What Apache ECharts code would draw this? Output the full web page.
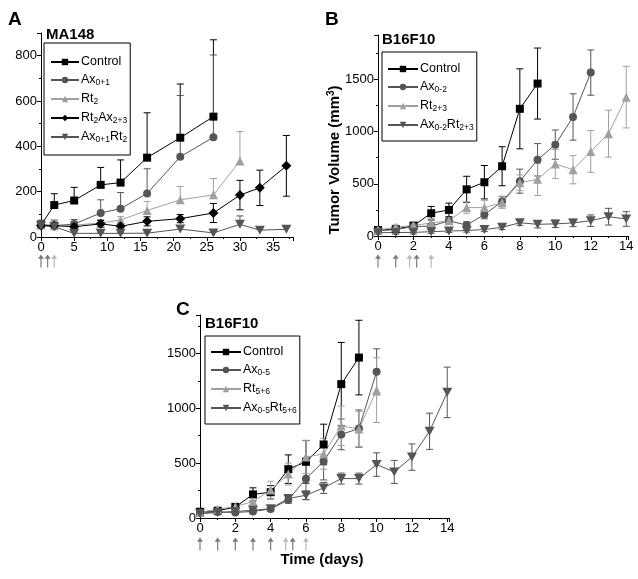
<!DOCTYPE html>
<html><head><meta charset="utf-8">
<script src="https://cdn.jsdelivr.net/npm/echarts@6/dist/echarts.min.js"></script>
<style>html,body{margin:0;padding:0;background:#fff}#c{width:638px;height:579px}</style>
</head><body><div id="c"></div>
<script>
// ---------- Panel A (MA148) ----------
const A_days_control = [0,2,5,9,12,16,21,26];
const A_control      = [52,141,161,230,240,350,438,531];
const A_control_err  = [22,50,58,77,100,198,237,339];
const A_days_ax      = [0,2,5,9,12,16,21,26];
const A_ax           = [55,50,57,106,125,192,354,440];
const A_ax_err       = [15,25,20,58,71,109,270,363];
const A_days_rt      = [0,2,5,9,12,16,21,26,30];
const A_rt           = [55,50,52,62,75,117,164,186,335];
const A_rt_err       = [15,20,15,15,15,40,59,72,130];
const A_days_rtax    = [0,2,5,9,12,16,21,26,30,33,37];
const A_rtax         = [51,50,45,58,47,69,81,106,185,217,314];
const A_rtax_err     = [12,15,15,15,15,20,18,42,65,78,134];
const A_days_axrt    = [0,2,5,9,12,16,21,26,30,33,37];
const A_axrt         = [50,45,16,16,16,17,35,18,56,30,34];
const A_axrt_err     = [10,10,5,5,5,5,10,5,37,5,16];
const A_arrow_days   = [0,1,2];
const A_arrow_kind   = ['Ax','Ax','Rt'];

// ---------- Panel B (B16F10) ----------
const B_days_control = [0,1,2,3,4,5,6,7,8,9];
const B_control      = [57,65,100,218,250,447,515,668,1218,1460];
const B_control_err  = [20,20,20,65,65,125,160,187,383,340];
const B_days_ax      = [0,1,2,3,4,5,6,7,8,9,10,11,12];
const B_ax           = [50,62,90,95,145,105,205,330,525,730,875,1140,1565];
const B_ax_err       = [20,20,20,20,30,30,40,50,115,155,140,222,217];
const B_days_rt      = [0,1,2,3,4,5,6,7,8,9,10,11,12,13,14];
const B_rt           = [55,85,100,125,145,272,272,320,510,543,690,635,810,980,1330];
const B_rt_err       = [20,20,20,40,30,55,70,55,75,155,140,135,200,225,295];
const B_days_axrt    = [0,1,2,3,4,5,6,7,8,9,10,11,12,13,14];
const B_axrt         = [32,33,35,41,48,52,62,83,127,112,116,125,147,185,163];
const B_axrt_err     = [15,15,15,15,15,15,20,20,25,35,35,35,55,80,70];
const B_arrow_days   = [0,1,1.78,2.18,3];
const B_arrow_kind   = ['Ax','Ax','Rt','Ax','Rt'];

// ---------- Panel C (B16F10) ----------
const C_days_control = [0,1,2,3,4,5,6,7,8,9];
const C_control      = [57,65,100,215,235,445,512,670,1220,1462];
const C_control_err  = [20,20,20,60,60,130,195,185,380,340];
const C_days_ax      = [0,1,2,3,4,5,6,7,8,9,10];
const C_ax           = [45,55,50,60,82,165,358,517,762,815,1332];
const C_ax_err       = [15,15,15,15,20,30,190,170,140,170,210];
const C_days_rt      = [0,1,2,3,4,5,6,7,8,9,10];
const C_rt           = [50,80,105,150,255,400,555,585,840,810,1165];
const C_rt_err       = [15,20,30,40,80,100,150,140,180,160,295];
const C_days_axrt    = [0,1,2,3,4,5,6,7,8,9,10,11,12,13,14];
const C_axrt         = [40,50,60,70,85,178,207,274,359,359,487,420,555,790,1145];
const C_axrt_err     = [15,15,15,15,20,30,40,50,50,50,107,105,120,165,230];
const C_arrow_days   = [0,1,2,3,4,4.85,5.25,6];
const C_arrow_kind   = ['Ax','Ax','Ax','Ax','Ax','Rt','Ax','Rt'];

// ---------- styles ----------
const FONT = 'Liberation Sans, Arial, Helvetica, sans-serif';
const BLACK = '#000000', DARK = '#555555', LIGHT = '#a0a0a0';
const ARROW_COL = {Ax: '#5a5a5a', Rt: '#a8a8a8'};
const DOWN_TRI = 'path://M0,0 L10,0 L5,9 Z';
const ARROW = 'path://M5,0 L10,6 L6,6 L6,18 L4,18 L4,6 L0,6 Z';
const STY = {
  control: {color: BLACK, line: BLACK, symbol: 'rect', size: 8},
  ax:      {color: DARK,  line: DARK,  symbol: 'circle', size: 8},
  rt:      {color: LIGHT, line: LIGHT, symbol: 'triangle', size: 9},
  rtax:    {color: BLACK, line: BLACK, symbol: 'diamond', size: 10},
  axrt:    {color: DARK,  line: DARK,  symbol: DOWN_TRI, size: [10, 9]}
};

function pairs(xs, ys){ return xs.map((x,i)=>[x, ys[i]]); }
function triples(xs, ys, es){ return xs.map((x,i)=>[x, ys[i], es[i]]); }

function errRender(both){
  return function(params, api){
    const x = api.value(0), y = api.value(1), e = api.value(2);
    const top = api.coord([x, y + e]);
    const bot = api.coord([x, both ? y - e : y]);
    const w = 3.5;
    const style = {stroke: api.visual('color'), lineWidth: 1, fill: null};
    const ch = [
      {type:'line', shape:{x1:top[0], y1:top[1], x2:bot[0], y2:bot[1]}, style: style},
      {type:'line', shape:{x1:top[0]-w, y1:top[1], x2:top[0]+w, y2:top[1]}, style: style}
    ];
    if (both) ch.push({type:'line', shape:{x1:bot[0]-w, y1:bot[1], x2:bot[0]+w, y2:bot[1]}, style: style});
    return {type:'group', children: ch};
  };
}

const series = [];
function addSeries(name, gi, key, days, vals, errs, both){
  const s = STY[key];
  series.push({
    type:'custom', name: name + '_err', xAxisIndex: gi, yAxisIndex: gi, z: 1,
    renderItem: errRender(both), itemStyle:{color: s.color},
    data: triples(days, vals, errs), silent: true, animation:false
  });
  series.push({
    type:'line', name: name, xAxisIndex: gi, yAxisIndex: gi, z: 3,
    symbol: s.symbol, symbolSize: s.size, showSymbol: true,
    itemStyle:{color: s.color, opacity:1}, lineStyle:{color: s.line, width: 1},
    data: pairs(days, vals), animation:false, clip:false
  });
}
function addArrows(gi, days, kinds){
  series.push({
    type:'scatter', xAxisIndex: gi, yAxisIndex: gi, symbol: ARROW, symbolSize: [6, 13],
    data: days.map((d,i)=>({value:[d, 0.5], itemStyle:{color: ARROW_COL[kinds[i]]}})),
    animation:false, silent:true
  });
}

addSeries('A_control', 0, 'control', A_days_control, A_control, A_control_err, false);
addSeries('A_ax',      0, 'ax',      A_days_ax, A_ax, A_ax_err, false);
addSeries('A_rt',      0, 'rt',      A_days_rt, A_rt, A_rt_err, false);
addSeries('A_rtax',    0, 'rtax',    A_days_rtax, A_rtax, A_rtax_err, true);
addSeries('A_axrt',    0, 'axrt',    A_days_axrt, A_axrt, A_axrt_err, false);
addSeries('B_control', 1, 'control', B_days_control, B_control, B_control_err, true);
addSeries('B_ax',      1, 'ax',      B_days_ax, B_ax, B_ax_err, true);
addSeries('B_rt',      1, 'rt',      B_days_rt, B_rt, B_rt_err, true);
addSeries('B_axrt',    1, 'axrt',    B_days_axrt, B_axrt, B_axrt_err, true);
addSeries('C_control', 2, 'control', C_days_control, C_control, C_control_err, true);
addSeries('C_ax',      2, 'ax',      C_days_ax, C_ax, C_ax_err, true);
addSeries('C_rt',      2, 'rt',      C_days_rt, C_rt, C_rt_err, true);
addSeries('C_axrt',    2, 'axrt',    C_days_axrt, C_axrt, C_axrt_err, true);
addArrows(3, A_arrow_days, A_arrow_kind);
addArrows(4, B_arrow_days, B_arrow_kind);
addArrows(5, C_arrow_days, C_arrow_kind);

const LABELS = {
  A_control: '{t|Control}', A_ax: '{t|Ax}{s|0+1}', A_rt: '{t|Rt}{s|2}',
  A_rtax: '{t|Rt}{s|2}{t|Ax}{s|2+3}', A_axrt: '{t|Ax}{s|0+1}{t|Rt}{s|2}',
  B_control: '{t|Control}', B_ax: '{t|Ax}{s|0-2}', B_rt: '{t|Rt}{s|2+3}', B_axrt: '{t|Ax}{s|0-2}{t|Rt}{s|2+3}',
  C_control: '{t|Control}', C_ax: '{t|Ax}{s|0-5}', C_rt: '{t|Rt}{s|5+6}', C_axrt: '{t|Ax}{s|0-5}{t|Rt}{s|5+6}'
};

function legend(left, top, names, pad, gap, iw){
  return {
    left: left, top: top, orient:'vertical', borderColor:'#000', borderWidth:1,
    padding: pad, itemWidth: iw, itemHeight: 8, itemGap: gap,
    data: names, selectedMode: false,
    formatter: n => LABELS[n],
    textStyle: {color:'#000', fontFamily: FONT, padding:[0,0,0,-3],
      rich: {
        t: {fontSize: 12.5, fontFamily: FONT, color:'#000', lineHeight: 14, verticalAlign:'top'},
        s: {fontSize: 8.5, fontFamily: FONT, color:'#000', lineHeight: 9, padding:[8,0,0,0], verticalAlign:'bottom'}
      }}
  };
}

function valAxis(gi, max, interval){
  return {
    type:'value', gridIndex: gi, min: 0, max: max, interval: interval,
    axisLine:{show:true, onZero:false, lineStyle:{color:'#000', width:1}},
    axisTick:{show:true, length:4, lineStyle:{color:'#000'}},
    minorTick:{show:true, splitNumber:2, length:2, lineStyle:{color:'#000'}},
    splitLine:{show:false}, minorSplitLine:{show:false},
    axisLabel:{color:'#000', fontSize:13, fontFamily: FONT, margin:4, showMaxLabel:false,
      formatter: v => (Math.abs(v/interval - Math.round(v/interval)) < 1e-6 ? String(v) : '')}
  };
}
function hidden(gi, min, max){
  return {type:'value', gridIndex: gi, min: min, max: max, show:false};
}

const option = {
  backgroundColor:'#fff',
  animation:false,
  grid: [
    {left: 41, top: 33, width: 252, height: 204},
    {left: 378, top: 35, width: 250, height: 201},
    {left: 200, top: 315, width: 249, height: 203},
    {left: 41, top: 254, width: 252, height: 14},
    {left: 378, top: 254, width: 250, height: 14},
    {left: 200, top: 537, width: 249, height: 14}
  ],
  xAxis: [
    valAxis(0, 38, 5), valAxis(1, 14.1, 2), valAxis(2, 14.1, 2),
    hidden(3, 0, 38), hidden(4, 0, 14.1), hidden(5, 0, 14.1)
  ],
  yAxis: [
    valAxis(0, 900, 200), valAxis(1, 1925, 500), valAxis(2, 1850, 500),
    hidden(3, 0, 1), hidden(4, 0, 1), hidden(5, 0, 1)
  ],
  legend: [
    legend(44, 43, ['A_control','A_ax','A_rt','A_rtax','A_axrt'], [12, 3, 11, 6], 2, 28),
    legend(382, 52, ['B_control','B_ax','B_rt','B_axrt'], [10, 3, 9, 5], 2, 30),
    legend(205, 336, ['C_control','C_ax','C_rt','C_axrt'], [9, 3, 9, 5], 2, 30)
  ],
  graphic: [
    {type:'text', left: 8, top: 10, style:{text:'A', font:'bold 19px ' + FONT, fill:'#000'}},
    {type:'text', left: 46, top: 27, style:{text:'MA148', font:'bold 15px ' + FONT, fill:'#000'}},
    {type:'text', left: 325, top: 10, style:{text:'B', font:'bold 19px ' + FONT, fill:'#000'}},
    {type:'text', left: 382, top: 32, style:{text:'B16F10', font:'bold 15px ' + FONT, fill:'#000'}},
    {type:'text', left: 176, top: 300, style:{text:'C', font:'bold 19px ' + FONT, fill:'#000'}},
    {type:'text', left: 205, top: 316, style:{text:'B16F10', font:'bold 15px ' + FONT, fill:'#000'}},
    {type:'text', x: 335, y: 160, rotation: Math.PI/2,
      style:{text:'Tumor Volume (mm{sup|3})', font:'bold 15px ' + FONT, fill:'#000', align:'center', verticalAlign:'middle',
        rich:{sup:{font:'bold 10px ' + FONT, fill:'#000', padding:[0,0,7,0]}}}},
    {type:'text', x: 322, y: 560, style:{text:'Time (days)', font:'bold 15px ' + FONT, fill:'#000', align:'center', verticalAlign:'middle'}}
  ],
  series: series
};

const chart = echarts.init(document.getElementById('c'), null, {renderer:'canvas'});
chart.setOption(option);
</script>
</body></html>
